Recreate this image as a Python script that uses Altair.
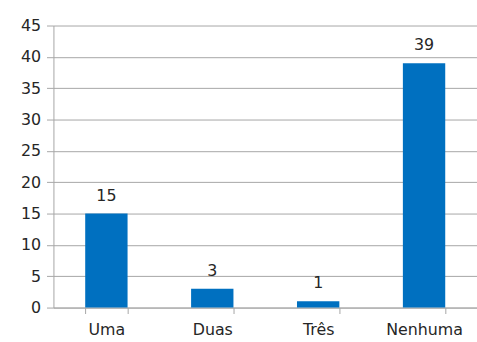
import altair as alt
import pandas as pd

categories = ["Uma", "Duas", "Três", "Nenhuma"]
counts = [15, 3, 1, 39]

df = pd.DataFrame({"categoria": categories, "valor": counts})

FONT = "DejaVu Sans"
GRID = "#a6a6a6"
TEXT = "#262626"

base = alt.Chart(df).encode(
    x=alt.X(
        "categoria:N",
        sort=categories,
        scale=alt.Scale(paddingInner=0.6, paddingOuter=0.3),
        axis=alt.Axis(
            title=None,
            labelAngle=0,
            labelFontSize=16,
            labelColor=TEXT,
            labelFont=FONT,
            labelPadding=8,
            tickBand="extent",
            tickSize=6,
            tickColor=GRID,
            domainColor=GRID,
        ),
    ),
    y=alt.Y(
        "valor:Q",
        scale=alt.Scale(domain=[0, 45], nice=False),
        axis=alt.Axis(
            title=None,
            values=list(range(0, 46, 5)),
            labelFontSize=16,
            labelColor=TEXT,
            labelFont=FONT,
            labelPadding=6,
            tickSize=7,
            tickColor=GRID,
            domainColor=GRID,
            gridColor=GRID,
        ),
    ),
)

bars = base.mark_bar(color="#0070C0")
labels = base.mark_text(
    dy=-10, baseline="bottom", fontSize=16, font=FONT, color=TEXT
).encode(text="valor:Q")

chart = (
    (bars + labels)
    .properties(
        width=428,
        height=285,
        padding={"left": 54, "top": 24, "right": 0, "bottom": 33},
        autosize=alt.AutoSizeParams(type="none"),
    )
    .configure_view(stroke=None)
    .configure_axis(domainWidth=1, tickWidth=1, gridWidth=1)
)

chart.save("out.html", embed_options={"renderer": "svg", "actions": False})
